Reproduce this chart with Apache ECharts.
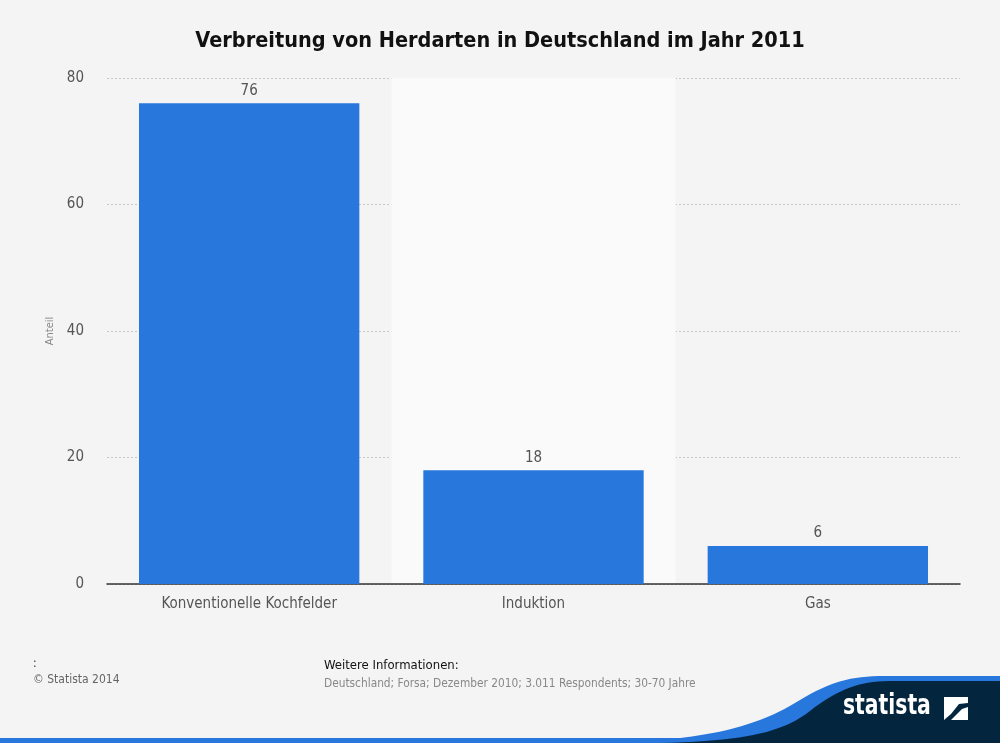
<!DOCTYPE html>
<html><head><meta charset="utf-8">
<script src="https://cdn.jsdelivr.net/npm/echarts@6/dist/echarts.min.js"></script>
<style>html,body{margin:0;padding:0;background:#f4f4f4}#c{width:1000px;height:743px}</style>
</head><body><div id="c"></div>
<script>
const categories = ['Konventionelle Kochfelder', 'Induktion', 'Gas'];
const values = [76, 18, 6];
const yTicks = [0, 20, 40, 60, 80];

const FONT = '"DejaVu Sans Condensed", "DejaVu Sans", sans-serif';

function bez(p0, p1, p2, p3, n) {
  const pts = [];
  for (let i = 0; i <= n; i++) {
    const t = i / n, u = 1 - t;
    pts.push([
      u*u*u*p0[0] + 3*u*u*t*p1[0] + 3*u*t*t*p2[0] + t*t*t*p3[0],
      u*u*u*p0[1] + 3*u*u*t*p1[1] + 3*u*t*t*p2[1] + t*t*t*p3[1]
    ]);
  }
  return pts;
}
function wave(a, b, c, d, e, f, g) {
  let pts = bez(a, b, c, d, 24).concat(bez(d, e, f, g, 16).slice(1));
  pts.push([1000, g[1]], [1000, 743]);
  return pts;
}

const chart = echarts.init(document.getElementById('c'));
chart.setOption({
  backgroundColor: '#f4f4f4',
  animation: false,
  title: {
    text: 'Verbreitung von Herdarten in Deutschland im Jahr 2011',
    left: 'center', top: 25,
    textStyle: { fontFamily: FONT, fontWeight: 'bold', fontSize: 21.5, color: '#111' }
  },
  grid: { left: 107, right: 40, top: 78, bottom: 159 },
  xAxis: {
    type: 'category', data: categories,
    axisLine: { lineStyle: { color: '#333', width: 1.5 } },
    axisTick: { show: false },
    axisLabel: { fontFamily: FONT, fontSize: 15, color: '#555', margin: 13 },
    splitArea: { show: true, areaStyle: { color: ['rgba(0,0,0,0)', '#fafafa'] } }
  },
  yAxis: {
    type: 'value', min: yTicks[0], max: yTicks[yTicks.length - 1], interval: 20,
    name: 'Anteil', nameLocation: 'middle', nameGap: 48,
    nameTextStyle: { fontFamily: FONT, fontSize: 11, color: '#888' },
    axisLine: { show: false }, axisTick: { show: false },
    axisLabel: { fontFamily: FONT, fontSize: 15, color: '#555', margin: 23 },
    splitLine: { lineStyle: { color: '#c8c8c8', type: [2, 2] } }
  },
  series: [{
    type: 'bar', data: values, barCategoryGap: '22.5%',
    itemStyle: { color: '#2877dd' },
    label: { show: true, position: 'top', distance: 5, fontFamily: FONT, fontSize: 15, color: '#555' }
  }],
  graphic: [
    { type: 'text', x: 33, y: 658, style: { text: ':', font: '12px ' + FONT, fill: '#333' } },
    { type: 'text', x: 33, y: 674, style: { text: '© Statista 2014', font: '12px ' + FONT, fill: '#666' } },
    { type: 'text', x: 324, y: 659, style: { text: 'Weitere Informationen:', font: '13px ' + FONT, fill: '#111' } },
    { type: 'text', x: 324, y: 678, style: { text: 'Deutschland; Forsa; Dezember 2010; 3.011 Respondents; 30-70 Jahre', font: '11.8px ' + FONT, fill: '#888' } },
    { type: 'rect', shape: { x: 0, y: 738, width: 1000, height: 5 }, style: { fill: '#2877dd' } },
    { type: 'polygon', shape: { points: wave([600,743],[710,741],[760,725],[800,700],[830,682],[850,676],[885,676]) }, style: { fill: '#2877dd' } },
    { type: 'polygon', shape: { points: wave([660,743],[760,741],[790,728],[815,707],[845,686],[862,681],[895,681]) }, style: { fill: '#03253d' } },
    { type: 'text', x: 843, y: 692, scaleX: 0.78, scaleY: 1, style: { text: 'statista', font: 'bold 29px "DejaVu Sans Condensed", sans-serif', fill: '#fff' } },
    { type: 'polygon', shape: { points: [[944,697],[968,697],[968,703],[959,704],[951,714],[944,720]] }, style: { fill: '#fff' } },
    { type: 'polygon', shape: { points: [[951,720],[957,714],[962,709],[968,707],[968,720]] }, style: { fill: '#fff' } }
  ]
});
</script></body></html>
